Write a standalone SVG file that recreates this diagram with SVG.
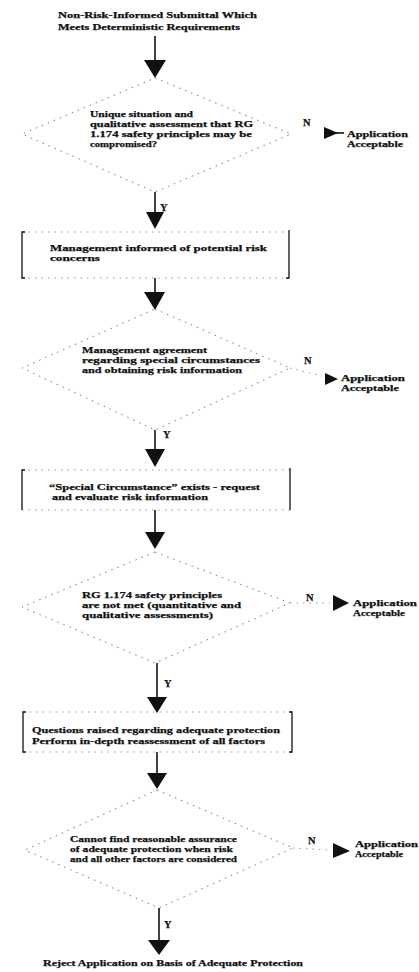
<svg xmlns="http://www.w3.org/2000/svg" width="419" height="972" viewBox="0 0 419 972">
<style>
text{font-family:"Liberation Serif","Times New Roman",serif;font-weight:bold;font-size:9px;fill:#111;stroke:#111;stroke-width:0.25}
.lbl{font-size:10.5px}
.dia{fill:none;stroke:#777;stroke-width:1;stroke-dasharray:1.5 5}
.edge{fill:none;stroke:#999;stroke-width:1;stroke-dasharray:1.5 5}
.side{fill:none;stroke:#111;stroke-width:1.3}
.ln{fill:none;stroke:#111;stroke-width:1.6}
.hd{fill:#111}
</style>
<rect width="419" height="972" fill="#fff"/>
<g id="start">
<text x="58" y="18" textLength="199" lengthAdjust="spacingAndGlyphs">Non-Risk-Informed Submittal Which</text>
<text x="58" y="30" textLength="182" lengthAdjust="spacingAndGlyphs">Meets Deterministic Requirements</text>
</g>
<g id="d1">
<polygon class="dia" points="155,78 291,134 155,192 22,134"/>
<text x="90" y="117" textLength="103" lengthAdjust="spacingAndGlyphs">Unique situation and</text>
<text x="90" y="127" textLength="163" lengthAdjust="spacingAndGlyphs">qualitative assessment that RG</text>
<text x="90" y="137" textLength="162" lengthAdjust="spacingAndGlyphs">1.174 safety principles may be</text>
<text x="90" y="147" textLength="67" lengthAdjust="spacingAndGlyphs">compromised?</text>
</g>
<g id="acc1">
<text x="347" y="137" textLength="61" lengthAdjust="spacingAndGlyphs">Application</text>
<text x="347" y="147" textLength="56" lengthAdjust="spacingAndGlyphs">Acceptable</text>
</g>
<g id="b1">
<line class="edge" x1="22" y1="232" x2="289" y2="232"/>
<line class="edge" x1="22" y1="278" x2="289" y2="278"/>
<path class="side" d="M25,232 H22 V278 H25"/>
<path class="side" d="M289,230 V278 H286"/>
<text x="50" y="251" textLength="217" lengthAdjust="spacingAndGlyphs">Management informed of potential risk</text>
<text x="50" y="261" textLength="50" lengthAdjust="spacingAndGlyphs">concerns</text>
</g>
<g id="d2">
<polygon class="dia" points="155,309 290,368 155,430 22,368"/>
<text x="82" y="353" textLength="125" lengthAdjust="spacingAndGlyphs">Management agreement</text>
<text x="82" y="363" textLength="178" lengthAdjust="spacingAndGlyphs">regarding special circumstances</text>
<text x="82" y="373" textLength="160" lengthAdjust="spacingAndGlyphs">and obtaining risk information</text>
</g>
<g id="acc2">
<text x="341" y="381" textLength="64" lengthAdjust="spacingAndGlyphs">Application</text>
<text x="341" y="391" textLength="58" lengthAdjust="spacingAndGlyphs">Acceptable</text>
</g>
<g id="b2">
<line class="edge" x1="22" y1="470" x2="290" y2="470"/>
<line class="edge" x1="22" y1="510" x2="290" y2="510"/>
<path class="side" d="M25,470 H22 V510"/>
<path class="side" d="M290,468 V510"/>
<text x="49" y="490" textLength="211" lengthAdjust="spacingAndGlyphs">“Special Circumstance” exists - request</text>
<text x="52" y="500" textLength="156" lengthAdjust="spacingAndGlyphs">and evaluate risk information</text>
</g>
<g id="d3">
<polygon class="dia" points="155,552 290,603 155,663 22,607"/>
<text x="82" y="598" textLength="140" lengthAdjust="spacingAndGlyphs">RG 1.174 safety principles</text>
<text x="82" y="608" textLength="159" lengthAdjust="spacingAndGlyphs">are not met (quantitative and</text>
<text x="82" y="618" textLength="131" lengthAdjust="spacingAndGlyphs">qualitative assessments)</text>
</g>
<g id="acc3">
<text x="353" y="606" textLength="64" lengthAdjust="spacingAndGlyphs">Application</text>
<text x="353" y="616" textLength="52" lengthAdjust="spacingAndGlyphs">Acceptable</text>
</g>
<g id="b3">
<line class="edge" x1="23" y1="712" x2="292" y2="712"/>
<line class="edge" x1="23" y1="752" x2="292" y2="752"/>
<path class="side" d="M26,712 H23 V752 H26"/>
<path class="side" d="M289,712 H292 V752 H289"/>
<text x="32" y="733" textLength="248" lengthAdjust="spacingAndGlyphs">Questions raised regarding adequate protection</text>
<text x="32" y="744" textLength="233" lengthAdjust="spacingAndGlyphs">Perform in-depth reassessment of all factors</text>
</g>
<g id="d4">
<polygon class="dia" points="157,790 293,848 159,908 25,850"/>
<text x="70" y="842" textLength="167" lengthAdjust="spacingAndGlyphs">Cannot find reasonable assurance</text>
<text x="70" y="852" textLength="163" lengthAdjust="spacingAndGlyphs">of adequate protection when risk</text>
<text x="70" y="862" textLength="167" lengthAdjust="spacingAndGlyphs">and all other factors are considered</text>
</g>
<g id="acc4">
<text x="355" y="847" textLength="63" lengthAdjust="spacingAndGlyphs">Application</text>
<text x="355" y="857" textLength="48" lengthAdjust="spacingAndGlyphs">Acceptable</text>
</g>
<g id="end">
<text x="43" y="966" textLength="260" lengthAdjust="spacingAndGlyphs">Reject Application on Basis of Adequate Protection</text>
</g>
<g id="connectors">
<line class="ln" x1="155" y1="36" x2="155" y2="62"/>
<polygon class="hd" points="144,60 166,60 155,78"/>
<line class="ln" x1="155" y1="192" x2="155" y2="214"/>
<polygon class="hd" points="146,212 164,212 155,229"/>
<text class="lbl" x="160" y="211">Y</text>
<line class="ln" x1="155" y1="278" x2="155" y2="294"/>
<polygon class="hd" points="144,292 165,292 155,310"/>
<line class="ln" x1="155" y1="430" x2="155" y2="451"/>
<polygon class="hd" points="145,449 165,449 155,467"/>
<text class="lbl" x="163" y="438">Y</text>
<line class="ln" x1="155" y1="510" x2="155" y2="534"/>
<polygon class="hd" points="145,532 165,532 155,549"/>
<line class="ln" x1="157" y1="663" x2="157" y2="699"/>
<polygon class="hd" points="147,697 167,697 157,713"/>
<text class="lbl" x="164" y="687">Y</text>
<line class="ln" x1="157" y1="752" x2="157" y2="775"/>
<polygon class="hd" points="147,773 167,773 157,789"/>
<line class="ln" x1="159" y1="908" x2="159" y2="942"/>
<polygon class="hd" points="148,940 170,940 159,955"/>
<text class="lbl" x="164" y="928">Y</text>
<text class="lbl" x="303" y="126">N</text>
<polygon class="hd" points="324,127 338,133 324,139"/>
<line class="ln" x1="324" y1="133" x2="344" y2="133" stroke-width="1"/>
<text class="lbl" x="304" y="364">N</text>
<line class="edge" x1="290" y1="368" x2="322" y2="376"/>
<polygon class="hd" points="325,373 338,379 325,385"/>
<text class="lbl" x="306" y="601">N</text>
<line class="edge" x1="290" y1="603" x2="330" y2="603"/>
<polygon class="hd" points="333,595 349,603 333,611"/>
<text class="lbl" x="308" y="844">N</text>
<line class="edge" x1="293" y1="848" x2="330" y2="850"/>
<polygon class="hd" points="333,843 350,851 333,858"/>
</g>
</svg>
